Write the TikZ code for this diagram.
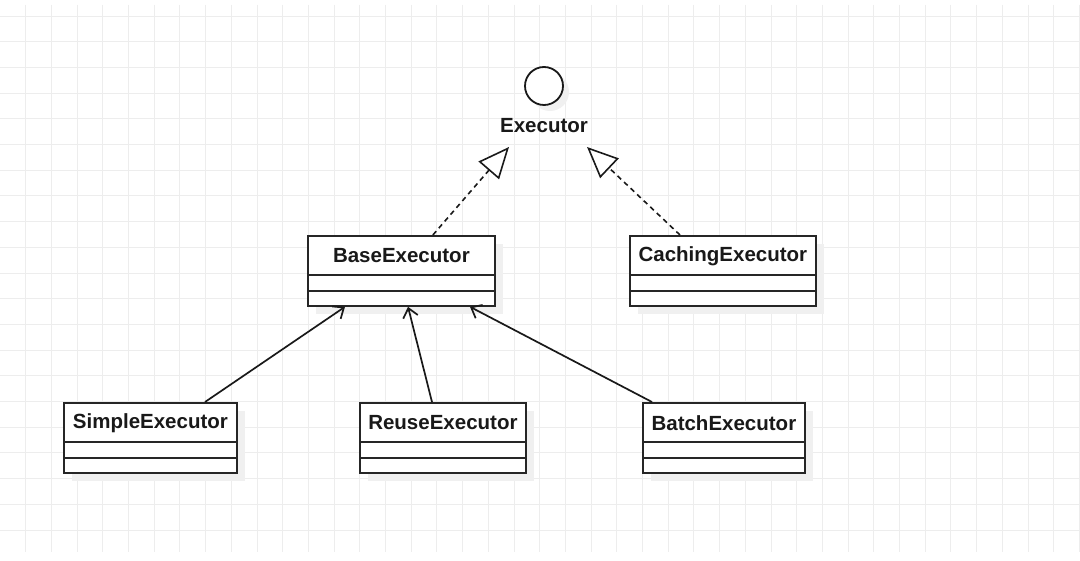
\documentclass[tikz,border=0pt]{standalone}
\usepackage{fontspec}
\setmainfont{Liberation Sans}
\usetikzlibrary{arrows.meta,calc}
\tikzset{
  cls/.style={draw=black!85, line width=1.8pt, fill=white, rectangle, inner sep=0pt,
    minimum height=70pt, anchor=north west},
  clsshadow/.style={fill=black!6, draw=none},
  lbl/.style={font=\fontsize{20.5}{24}\selectfont\bfseries, text=black!90, inner sep=0pt},
  divider/.style={draw=black!85, line width=1.8pt},
  realize/.style={draw=black!90, line width=1.6pt, dash pattern=on 5pt off 4pt,
    -{Triangle[open, length=31pt, width=27pt, line width=1.6pt, fill=white]}},
  inherit/.style={draw=black!90, line width=1.7pt, -{Straight Barb[length=9pt, width=15pt, line width=1.7pt]}},
  gridline/.style={draw=black!7, line width=0.9pt}
}
\newcommand{\umlclass}[5]{% name, x, y, width, text
  \fill[clsshadow] (#2+9,#3+9) rectangle ++(#4,70);
  \node[cls, minimum width=#4 pt] (#1) at (#2,#3) {};
  \draw[divider] ($(#1.north west)+(0,-40pt)$) -- ($(#1.north east)+(0,-40pt)$);
  \draw[divider] ($(#1.north west)+(0,-56pt)$) -- ($(#1.north east)+(0,-56pt)$);
  \node[lbl] (#1-t) at ($(#1.north)+(0,-21pt)$) {#5};
}
\begin{document}
\begin{tikzpicture}[x=1pt,y=-1pt]
\useasboundingbox (0,0) rectangle (1080,561);
\fill[white] (0,0) rectangle (1080,561);
% grid
\foreach \i in {1,...,42} {
  \draw[gridline] (\i*25.7,5) -- (\i*25.7,552);
}
\foreach \j in {0,...,20} {
  \draw[gridline] (0,16+\j*25.7) -- (1080,16+\j*25.7);
}
% interface
\fill[black!6] (550,92) circle (19);
\node[draw=black!90, line width=1.8pt, fill=white, circle, minimum size=38pt, inner sep=0pt] (iface) at (544,86) {};
\node[lbl] (ifacelbl) at (544,126) {Executor};
\coordinate (tipL) at (509,147);
\coordinate (tipR) at (587,147);
% classes
\umlclass{base}{307}{235}{187}{BaseExecutor}
\umlclass{caching}{629}{235}{186}{CachingExecutor}
\umlclass{simple}{63}{402}{173}{SimpleExecutor}
\umlclass{reuse}{359}{402}{166}{ReuseExecutor}
\umlclass{batch}{642}{402}{162}{BatchExecutor}
% realizations
\draw[realize] ([xshift=31.5pt]base.north) -- (tipL);
\draw[realize] ([xshift=51pt]caching.north west) -- (tipR);
% inheritance
\draw[inherit] ([xshift=142pt]simple.north west) -- ([xshift=38pt]base.south west);
\draw[inherit] ([xshift=73pt]reuse.north west) -- ([xshift=101pt]base.south west);
\draw[inherit] ([xshift=10pt]batch.north west) -- ([xshift=163pt]base.south west);
\end{tikzpicture}
\end{document}
